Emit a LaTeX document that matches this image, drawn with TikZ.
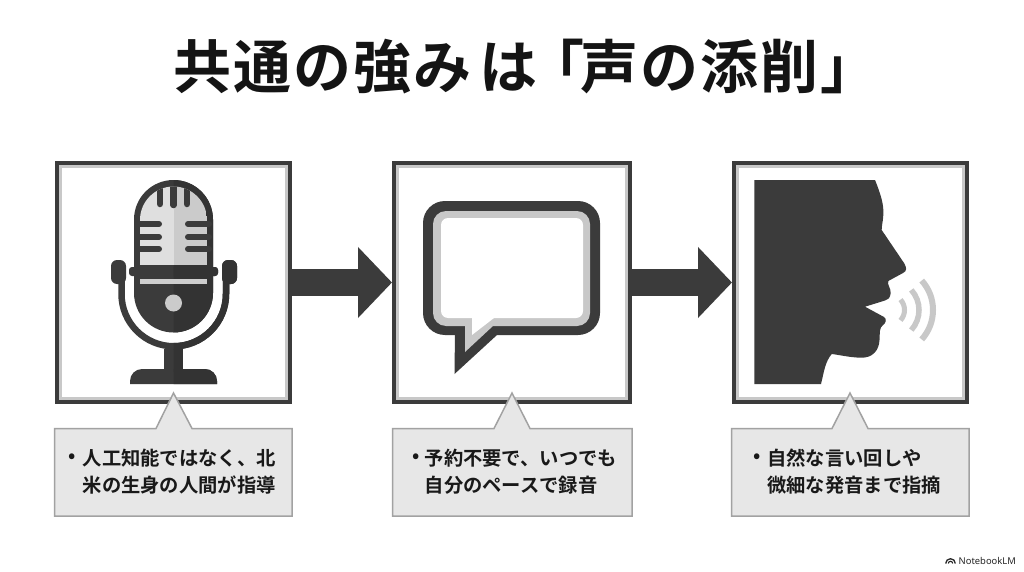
\documentclass[tikz,border=0pt]{standalone}
\usepackage{fontspec}
\usetikzlibrary{arrows.meta}
\setmainfont{Noto Sans CJK JP}[BoldFont={Noto Sans CJK JP Bold}]
\newfontfamily\logofont{Noto Sans}
\definecolor{inkdark}{HTML}{3B3B3B}
\definecolor{inkdeep}{HTML}{333333}
\definecolor{softgray}{HTML}{C8C8C8}
\definecolor{calloutfill}{HTML}{E7E7E7}
\definecolor{calloutline}{HTML}{A2A2A2}
\tikzset{
  panel/.style={draw=inkdark,line width=4pt,fill=white,inner sep=0pt,minimum width=233pt,minimum height=239pt},
  panelin/.style={draw=softgray,line width=3pt},
  flow/.style={draw=inkdark,line width=27pt,-{Triangle[length=34pt,width=69pt]},shorten <=-1pt},
  calloutshape/.style={draw=calloutline,line width=1.5pt,fill=calloutfill,line join=miter},
  calltext/.style={font=\bfseries\fontsize{19.3}{22}\selectfont,text=black!90,anchor=west,inner sep=0pt},
  wave/.style={draw=softgray,line width=6pt}
}
\newcommand{\micsolid}{%
  \fill (134,276) -- (134,219.5) arc (180:360:39.5) -- (213,293) arc (0:180:39.5) -- cycle;
  \fill[rounded corners=3pt] (129,267) rectangle (218,276);
  \draw[line width=6.5pt] (121.5,270) -- (121.5,294) arc (180:0:52.25) -- (226,270);
  \fill[rounded corners=6pt] (126,260) -- (111,260) -- (111,284) -- (126,284) -- cycle;
  \fill[rounded corners=6pt] (222,260) -- (237,260) -- (237,284) -- (222,284) -- cycle;
  \fill (164,349) rectangle (183,372);
  \fill (130,384) -- (130,381) arc (180:270:12) -- (205,369) arc (270:360:12) -- (217,384) -- cycle;
}
\begin{document}
\begin{tikzpicture}[x=1pt,y=1pt,yscale=-1]
\useasboundingbox (0,0) rectangle (1024,572);
\fill[white] (0,0) rectangle (1024,572);

\node[font=\bfseries\fontsize{58}{62}\selectfont,text=black!92,inner sep=0pt,anchor=west] (title) at (173,67) {共\kern2pt通\kern2pt の\kern2pt 強\kern2pt み\kern8pt は\kern-11pt 「\kern-4pt 声\kern2pt の\kern2pt 添\kern2pt 削\kern2pt 」};

\node[panel] (p1) at (173.5,282.5) {};
\node[panel,minimum width=236pt] (p2) at (512,282.5) {};
\node[panel] (p3) at (850.5,282.5) {};
\foreach \p in {p1,p2,p3}{
  \draw[panelin] ([xshift=5.5pt,yshift=5.5pt]\p.north west) rectangle ([xshift=-5.5pt,yshift=-5.5pt]\p.south east);
}
\draw[flow] (p1.east) -- (p2.west);
\draw[flow] (p2.east) -- (p3.west);

% microphone
\begin{scope}[fill=inkdark,draw=inkdark]
  \micsolid
  \begin{scope}
    \clip (173.5,170) rectangle (245,395);
    \begin{scope}[fill=inkdeep,draw=inkdeep]\micsolid\end{scope}
  \end{scope}
  \begin{scope}
    \clip (140,265) -- (140,220) arc (180:360:33.5) -- (207,265) -- cycle;
    \fill[gray!25] (140,180) rectangle (173.5,265);
    \fill[softgray!95] (173.5,180) rectangle (207,265);
    \draw[line width=6.5pt,line cap=round] (160,180) -- (160,204);
    \draw[line width=6.5pt,line cap=round] (173.5,180) -- (173.5,205);
    \draw[line width=6.5pt,line cap=round] (187,180) -- (187,204);
  \end{scope}
  \foreach \yy in {224,237,249}{
    \draw[line width=6pt,line cap=round] (138,\yy) -- (159,\yy);
    \draw[line width=6pt,line cap=round] (209,\yy) -- (188,\yy);
  }
  \fill[softgray!90] (140,279) rectangle (207,283.5);
  \fill[softgray!95] (173.5,303) circle[radius=8.5];
\end{scope}

% speech bubble
\fill[inkdark,rounded corners=22pt] (423,201) rectangle (600,335);
\fill[inkdark] (455,330) -- (454.5,374) -- (497,335) -- cycle;
\fill[softgray,rounded corners=13pt] (433,211) rectangle (590,326);
\fill[softgray] (465,320) -- (465,352) -- (493,326) -- cycle;
\fill[white,rounded corners=7pt] (441,218) rectangle (583,318);
\fill[white] (472,312) -- (472,335) -- (494,318) -- (494,312) -- cycle;

% face
\fill[inkdark] (754.3,180) -- (875,180)
  .. controls (881,195) and (884,205) .. (883.3,215)
  .. controls (883,222) and (881.5,226) .. (881.7,230)
  -- (904,263)
  .. controls (907,268) and (907,271) .. (903,273)
  -- (888.3,281)
  .. controls (887,285) and (891,288) .. (890.7,293.3)
  .. controls (890,298) and (888,300) .. (885,300.5)
  -- (865,306.7) -- (884,317)
  .. controls (887,319) and (886,323) .. (883,325)
  .. controls (879,328) and (880,333) .. (879.5,340)
  .. controls (879,350) and (873,358) .. (861,357.7)
  .. controls (850,357.5) and (840,355) .. (831.7,354)
  .. controls (825,362) and (824,372) .. (821,384)
  -- (754.3,384) -- cycle;
\draw[wave,line width=6pt] ([shift={(-42:44)}]889,310) arc (-42:42:44);
\draw[wave,line width=5.5pt] ([shift={(-42:30)}]889,310) arc (-42:42:30);
\draw[wave,line width=5pt] ([shift={(-42:15.5)}]889,310) arc (-42:42:15.5);

% callouts
\draw[calloutshape] (54.5,428.5) -- (156,428.5) -- (173.5,393) -- (192,428.5) -- (292,428.5) -- (292,516) -- (54.5,516) -- cycle;
\draw[calloutshape] (392.5,428.5) -- (494,428.5) -- (512,393) -- (530,428.5) -- (632,428.5) -- (632,516) -- (392.5,516) -- cycle;
\draw[calloutshape] (731.5,428.5) -- (832,428.5) -- (850,393) -- (868,428.5) -- (969,428.5) -- (969,516) -- (731.5,516) -- cycle;

\node[calltext] (c1a) at (68.5,458.5) {•};
\node[calltext] (c1b) at (82.5,458.5) {人工知能ではなく、北};
\node[calltext] (c1c) at (82.5,485) {米の生身の人間が指導};
\node[calltext] (c2a) at (412.5,458) {•};
\node[calltext] (c2b) at (424.5,458) {予約不要で、いつでも};
\node[calltext] (c2c) at (424.5,485) {自分のペースで録音};
\node[calltext] (c3a) at (753.5,458) {•};
\node[calltext] (c3b) at (767,458) {自然な言い回しや};
\node[calltext] (c3c) at (767,485.5) {微細な発音まで指摘};

% logo
\node[font=\logofont\fontsize{9.4}{11}\selectfont,text=black!85,anchor=west,inner sep=0pt] (logo) at (958.5,561) {NotebookLM};
\draw[black!85,line width=1.3pt] (945.7,563.5) arc (180:360:4.8);
\draw[black!85,line width=1.1pt] (948.3,563.5) arc (180:360:2.2);
\end{tikzpicture}
\end{document}
